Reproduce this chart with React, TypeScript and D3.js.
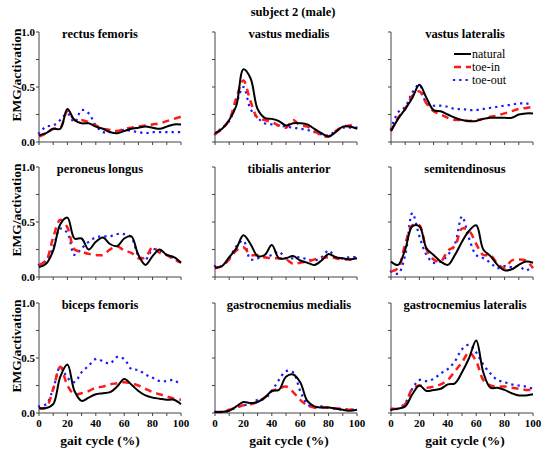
import React from 'react';
import * as d3 from 'd3';

// gait cycle samples (%)
const gaitCycle = [0, 5, 10, 15, 20, 25, 30, 35, 40, 45, 50, 55, 60, 65, 70, 75, 80, 85, 90, 95, 100];

const rectusNatural = [0.06, 0.08, 0.12, 0.12, 0.3, 0.2, 0.17, 0.17, 0.14, 0.12, 0.09, 0.08, 0.1, 0.12, 0.13, 0.14, 0.13, 0.12, 0.14, 0.16, 0.16];
const rectusToeIn = [0.05, 0.08, 0.12, 0.13, 0.28, 0.2, 0.2, 0.18, 0.15, 0.12, 0.11, 0.1, 0.12, 0.13, 0.14, 0.15, 0.16, 0.17, 0.19, 0.21, 0.23];
const rectusToeOut = [0.08, 0.14, 0.15, 0.2, 0.26, 0.18, 0.29, 0.26, 0.15, 0.09, 0.09, 0.1, 0.11, 0.1, 0.09, 0.08, 0.09, 0.09, 0.09, 0.09, 0.09];

const vmNatural = [0.08, 0.12, 0.2, 0.33, 0.66, 0.58, 0.3, 0.22, 0.21, 0.19, 0.15, 0.17, 0.17, 0.16, 0.12, 0.08, 0.05, 0.09, 0.14, 0.14, 0.12];
const vmToeIn = [0.07, 0.12, 0.2, 0.4, 0.56, 0.37, 0.22, 0.2, 0.18, 0.15, 0.13, 0.2, 0.15, 0.14, 0.1, 0.06, 0.05, 0.1, 0.14, 0.15, 0.17];
const vmToeOut = [0.07, 0.13, 0.19, 0.35, 0.5, 0.3, 0.22, 0.17, 0.16, 0.15, 0.14, 0.13, 0.12, 0.11, 0.09, 0.07, 0.06, 0.1, 0.13, 0.13, 0.13];

const vlNatural = [0.1, 0.21, 0.3, 0.4, 0.52, 0.4, 0.29, 0.28, 0.25, 0.22, 0.2, 0.19, 0.19, 0.21, 0.22, 0.22, 0.22, 0.22, 0.25, 0.26, 0.26];
const vlToeIn = [0.1, 0.22, 0.3, 0.42, 0.46, 0.35, 0.28, 0.25, 0.22, 0.2, 0.2, 0.19, 0.2, 0.21, 0.23, 0.24, 0.26, 0.28, 0.3, 0.31, 0.32];
const vlToeOut = [0.12, 0.27, 0.32, 0.45, 0.52, 0.35, 0.33, 0.33, 0.32, 0.3, 0.3, 0.29, 0.29, 0.3, 0.31, 0.32, 0.33, 0.34, 0.35, 0.35, 0.34];

const plNatural = [0.09, 0.12, 0.24, 0.48, 0.54, 0.35, 0.35, 0.25, 0.32, 0.36, 0.3, 0.28, 0.35, 0.37, 0.2, 0.11, 0.19, 0.25, 0.2, 0.18, 0.13];
const plToeIn = [0.11, 0.15, 0.36, 0.52, 0.45, 0.25, 0.23, 0.21, 0.2, 0.2, 0.25, 0.28, 0.24, 0.22, 0.17, 0.18, 0.27, 0.22, 0.2, 0.16, 0.13];
const plToeOut = [0.11, 0.15, 0.27, 0.44, 0.4, 0.2, 0.26, 0.32, 0.36, 0.37, 0.37, 0.39, 0.39, 0.36, 0.2, 0.16, 0.25, 0.24, 0.2, 0.17, 0.13];

const taNatural = [0.085, 0.1, 0.18, 0.26, 0.38, 0.3, 0.19, 0.2, 0.29, 0.17, 0.17, 0.19, 0.15, 0.13, 0.11, 0.15, 0.21, 0.18, 0.17, 0.16, 0.17];
const taToeIn = [0.08, 0.1, 0.16, 0.24, 0.27, 0.2, 0.2, 0.18, 0.17, 0.17, 0.16, 0.12, 0.13, 0.14, 0.16, 0.17, 0.18, 0.17, 0.16, 0.16, 0.15];
const taToeOut = [0.1, 0.1, 0.17, 0.28, 0.33, 0.16, 0.17, 0.18, 0.2, 0.23, 0.17, 0.17, 0.18, 0.16, 0.15, 0.18, 0.24, 0.18, 0.17, 0.18, 0.18];

const stNatural = [0.14, 0.11, 0.25, 0.46, 0.46, 0.26, 0.2, 0.14, 0.11, 0.2, 0.32, 0.42, 0.47, 0.25, 0.19, 0.11, 0.06, 0.07, 0.11, 0.14, 0.13];
const stToeIn = [0.05, 0.08, 0.3, 0.47, 0.47, 0.25, 0.16, 0.14, 0.24, 0.28, 0.44, 0.42, 0.3, 0.2, 0.2, 0.12, 0.08, 0.15, 0.16, 0.15, 0.08];
const stToeOut = [0.05, 0.03, 0.2, 0.58, 0.37, 0.2, 0.13, 0.14, 0.2, 0.3, 0.55, 0.35, 0.2, 0.17, 0.13, 0.08, 0.1, 0.09, 0.1, 0.06, 0.1];

const bfNatural = [0.045, 0.045, 0.08, 0.33, 0.44, 0.2, 0.11, 0.14, 0.17, 0.18, 0.19, 0.24, 0.31, 0.26, 0.2, 0.16, 0.14, 0.13, 0.12, 0.12, 0.08];
const bfToeIn = [0.04, 0.05, 0.22, 0.42, 0.25, 0.17, 0.18, 0.2, 0.23, 0.24, 0.26, 0.27, 0.28, 0.27, 0.25, 0.22, 0.19, 0.17, 0.15, 0.13, 0.12];
const bfToeOut = [0.06, 0.08, 0.22, 0.42, 0.32, 0.28, 0.37, 0.43, 0.49, 0.47, 0.45, 0.51, 0.49, 0.4, 0.39, 0.35, 0.32, 0.29, 0.29, 0.3, 0.25];

const gmNatural = [0.01, 0.01, 0.02, 0.06, 0.1, 0.09, 0.1, 0.14, 0.2, 0.21, 0.33, 0.35, 0.28, 0.11, 0.06, 0.05, 0.05, 0.04, 0.03, 0.02, 0.03];
const gmToeIn = [0.01, 0.01, 0.03, 0.05, 0.07, 0.08, 0.1, 0.14, 0.2, 0.22, 0.24, 0.19, 0.12, 0.07, 0.05, 0.05, 0.05, 0.04, 0.04, 0.03, 0.04];
const gmToeOut = [0.01, 0.01, 0.02, 0.05, 0.07, 0.08, 0.12, 0.13, 0.2, 0.3, 0.38, 0.37, 0.2, 0.08, 0.05, 0.06, 0.05, 0.04, 0.03, 0.03, 0.03];

const glNatural = [0.03, 0.04, 0.06, 0.17, 0.25, 0.2, 0.21, 0.22, 0.26, 0.27, 0.37, 0.5, 0.66, 0.37, 0.23, 0.23, 0.21, 0.18, 0.16, 0.16, 0.17];
const glToeIn = [0.04, 0.04, 0.08, 0.22, 0.25, 0.23, 0.24, 0.26, 0.3, 0.38, 0.46, 0.55, 0.47, 0.3, 0.25, 0.24, 0.24, 0.23, 0.22, 0.21, 0.21];
const glToeOut = [0.03, 0.04, 0.09, 0.22, 0.3, 0.29, 0.31, 0.36, 0.4, 0.47, 0.58, 0.62, 0.55, 0.44, 0.36, 0.3, 0.28, 0.26, 0.25, 0.24, 0.22];

const muscles = [
  'rectus femoris', 'vastus medialis', 'vastus lateralis',
  'peroneus longus', 'tibialis anterior', 'semitendinosus',
  'biceps femoris', 'gastrocnemius medialis', 'gastrocnemius lateralis',
];
const naturalSeries = [rectusNatural, vmNatural, vlNatural, plNatural, taNatural, stNatural, bfNatural, gmNatural, glNatural];
const toeInSeries = [rectusToeIn, vmToeIn, vlToeIn, plToeIn, taToeIn, stToeIn, bfToeIn, gmToeIn, glToeIn];
const toeOutSeries = [rectusToeOut, vmToeOut, vlToeOut, plToeOut, taToeOut, stToeOut, bfToeOut, gmToeOut, glToeOut];

const legendLabels = ['natural', 'toe-in', 'toe-out'];
const yTickLabels = [0, 0.5, 1];
const xTickLabels = [0, 20, 40, 60, 80, 100];

// layout
const width = 550;
const height = 449;
const panelW = 142;
const panelH = 110;
const colX = [39, 215, 391];
const rowY = [32, 167, 303];
const font = '"Liberation Serif", "Times New Roman", serif';
const axisColor = '#444';

const styles = [
  { stroke: '#000', strokeWidth: 2, dash: undefined, cap: 'butt' },
  { stroke: '#ff1a1a', strokeWidth: 2.5, dash: '7,5', cap: 'butt' },
  { stroke: '#1a1aff', strokeWidth: 2.2, dash: '0.1,6.2', cap: 'square' },
];

function Panel({ idx }: { idx: number }) {
  const col = idx % 3;
  const row = Math.floor(idx / 3);
  const x0 = colX[col];
  const y0 = rowY[row];

  const xScale = d3.scaleLinear().domain([0, 100]).range([0, panelW]);
  const yScale = d3.scaleLinear().domain([0, 1]).range([panelH, 0]);

  const line = d3
    .line<number>()
    .x((_, i) => xScale(gaitCycle[i]))
    .y((d) => yScale(d))
    .curve(d3.curveCatmullRom.alpha(0.5));

  const series = [naturalSeries[idx], toeInSeries[idx], toeOutSeries[idx]];
  const labelX = col === 0 ? 61 : 74;

  return (
    <g transform={`translate(${x0},${y0})`}>
      {/* axes */}
      <line x1={0} x2={0} y1={0} y2={panelH} stroke={axisColor} strokeWidth={1} />
      <line x1={0} x2={panelW} y1={panelH} y2={panelH} stroke={axisColor} strokeWidth={1} />
      {d3.range(0, 1.01, 0.25).map((t) => (
        <line key={`yt${t}`} x1={-3} x2={0} y1={yScale(t)} y2={yScale(t)} stroke={axisColor} />
      ))}
      {d3.range(0, 101, 10).map((t) => (
        <line key={`xt${t}`} x1={xScale(t)} x2={xScale(t)} y1={panelH} y2={panelH + 3} stroke={axisColor} />
      ))}
      {col === 0 &&
        yTickLabels.map((t) => (
          <text key={`yl${t}`} x={-4} y={yScale(t) + 4} textAnchor="end" fontSize={11} fontWeight="bold" fontFamily={font}>
            {t.toFixed(1)}
          </text>
        ))}
      {row === 2 &&
        xTickLabels.map((t) => (
          <text key={`xl${t}`} x={xScale(t)} y={panelH + 14} textAnchor="middle" fontSize={11} fontWeight="bold" fontFamily={font}>
            {t}
          </text>
        ))}
      {row === 2 && (
        <text x={labelX} y={panelH + 32} textAnchor="middle" fontSize={13.5} fontWeight="bold" fontFamily={font}>
          gait cycle (%)
        </text>
      )}
      {col === 0 && (
        <text
          transform={`translate(${-18},${panelH / 2 - 12}) rotate(-90)`}
          textAnchor="middle"
          fontSize={13.5}
          fontWeight="bold"
          fontFamily={font}
        >
          EMG/activation
        </text>
      )}
      {/* lines, toe-out first so natural sits on top */}
      {[2, 1, 0].map((s) => (
        <path
          key={s}
          d={line(series[s]) || ''}
          fill="none"
          stroke={styles[s].stroke}
          strokeWidth={styles[s].strokeWidth}
          strokeDasharray={styles[s].dash}
          strokeLinecap={styles[s].cap as any}
        />
      ))}
      <text x={labelX} y={6} textAnchor="middle" fontSize={12.5} fontWeight="bold" fontFamily={font}>
        {muscles[idx]}
      </text>
    </g>
  );
}

function Legend() {
  const lx = 454;
  const rows = [58, 71, 84];
  return (
    <g>
      {legendLabels.map((label, i) => (
        <g key={label}>
          <line
            x1={lx}
            x2={lx + 17}
            y1={rows[i] - 4}
            y2={rows[i] - 4}
            stroke={styles[i].stroke}
            strokeWidth={styles[i].strokeWidth}
            strokeDasharray={styles[i].dash}
            strokeLinecap={styles[i].cap as any}
          />
          <text x={lx + 18} y={rows[i]} fontSize={12} fontFamily={font}>
            {label}
          </text>
        </g>
      ))}
    </g>
  );
}

export default function App() {
  return (
    <svg
      width={width}
      height={height}
      style={{ position: 'absolute', left: 0, top: 0, background: '#fff' }}
    >
      <text x={293} y={16} textAnchor="middle" fontSize={12.5} fontWeight="bold" fontFamily={font}>
        subject 2 (male)
      </text>
      {muscles.map((_, i) => (
        <Panel key={i} idx={i} />
      ))}
      <Legend />
    </svg>
  );
}
